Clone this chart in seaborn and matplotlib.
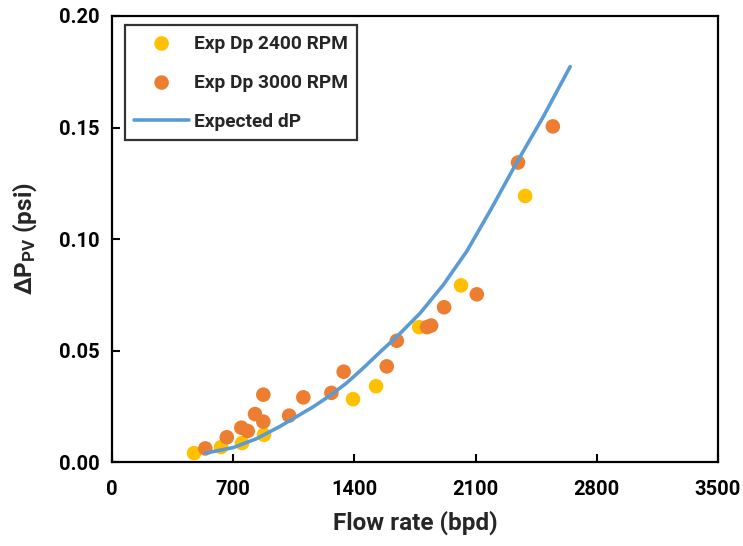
import numpy as np
import pandas as pd
import matplotlib
matplotlib.use("Agg")
import matplotlib.pyplot as plt
import seaborn as sns

# Data
q_2400 = [474, 630, 751, 878, 1392, 1525, 1774, 2016, 2386]
dp_2400 = [0.0040, 0.0067, 0.0085, 0.0122, 0.0282, 0.0340, 0.0605, 0.0792, 0.1193]

q_3000 = [539, 663, 747, 784, 826, 874, 874, 1023, 1105, 1267, 1338, 1587, 1645,
          1820, 1843, 1918, 2107, 2345, 2546]
dp_3000 = [0.0061, 0.0111, 0.0154, 0.0139, 0.0215, 0.0181, 0.0302, 0.0208, 0.0290,
           0.0310, 0.0405, 0.0429, 0.0544, 0.0605, 0.0612, 0.0694, 0.0752, 0.1343, 0.1505]

q_exp = [540, 701, 836, 971, 1047, 1163, 1259, 1356, 1452, 1548, 1645, 1779, 1914,
         2049, 2190, 2328, 2492, 2646]
dp_exp = [0.0040, 0.0065, 0.0105, 0.0160, 0.0195, 0.0248, 0.0298, 0.0355, 0.0422,
          0.0493, 0.0562, 0.0667, 0.0795, 0.0945, 0.1135, 0.1330, 0.1550, 0.1773]

x_ticks = [0, 700, 1400, 2100, 2800, 3500]
y_ticks = [0.00, 0.05, 0.10, 0.15, 0.20]

sns.set_style("white")
FONT = 'Roboto'
plt.rcParams['font.family'] = [FONT, 'DejaVu Sans']
plt.rcParams['font.weight'] = 'bold'
plt.rcParams['mathtext.fontset'] = 'custom'
plt.rcParams['mathtext.rm'] = FONT + ':bold'
plt.rcParams['mathtext.it'] = FONT + ':bold'
plt.rcParams['mathtext.bf'] = FONT + ':bold'
plt.rcParams['mathtext.default'] = 'rm'

fig = plt.figure(figsize=(7.43, 5.46), dpi=100)
ax = fig.add_axes([0.1507, 0.1538, 0.8157, 0.8169])

df24 = pd.DataFrame({"q": q_2400, "dp": dp_2400})
df30 = pd.DataFrame({"q": q_3000, "dp": dp_3000})
dfe = pd.DataFrame({"q": q_exp, "dp": dp_exp})

sns.scatterplot(data=df24, x="q", y="dp", ax=ax, color="#FFC000", s=110,
                edgecolor="none", label="Exp Dp 2400 RPM", zorder=3)
sns.scatterplot(data=df30, x="q", y="dp", ax=ax, color="#ED7D31", s=110,
                edgecolor="none", label="Exp Dp 3000 RPM", zorder=4)
sns.lineplot(data=dfe, x="q", y="dp", ax=ax, color="#5B9BD5", linewidth=2.6,
             label="Expected dP", zorder=5, sort=True)
for ln in ax.get_lines():
    ln.set_solid_joinstyle('round')
    ln.set_solid_capstyle('round')

ax.set_xlim(0, 3500)
ax.set_ylim(0, 0.20)
ax.set_xticks(x_ticks)
ax.set_yticks(y_ticks)
ax.set_xticklabels([str(t) for t in x_ticks], fontweight='bold')
ax.set_yticklabels([f"{t:.2f}" for t in y_ticks], fontweight='bold')
ax.tick_params(axis='both', which='major', direction='in', length=6, width=1.5,
               labelsize=14.5, color='black', labelcolor='black',
               bottom=True, left=True, top=False, right=False)
ax.tick_params(axis='x', pad=13)
ax.tick_params(axis='y', pad=9)
for sp in ax.spines.values():
    sp.set_color('black')
    sp.set_linewidth(1.6)

ax.set_xlabel("Flow rate (bpd)", fontsize=17.5, fontweight='bold', labelpad=8)
ax.set_ylabel(r"$\Delta P_{PV}$ (psi)", fontsize=17.5, fontweight='bold', labelpad=14)

leg = ax.legend(loc='upper left', bbox_to_anchor=(0.021, 0.98), borderaxespad=0.0,
                frameon=True, fancybox=False, edgecolor='black',
                prop={'weight': 'bold', 'size': 13.8},
                handlelength=2.85, borderpad=0.5, labelspacing=1.1, handletextpad=0.26,
                markerscale=1.0)
leg.get_frame().set_linewidth(1.6)

fig.savefig("out.png", dpi=100)
